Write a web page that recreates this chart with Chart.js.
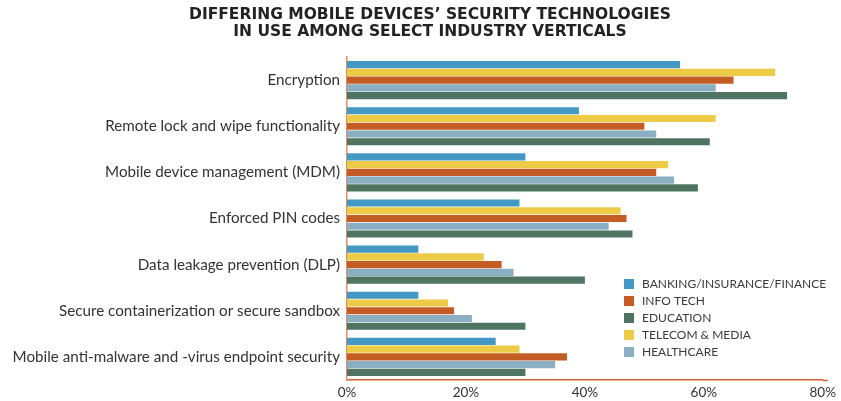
<!DOCTYPE html>
<html>
<head>
<meta charset="utf-8">
<title>Mobile security technologies by industry</title>
<script src="https://cdn.jsdelivr.net/npm/chart.js@4/dist/chart.umd.min.js"></script>
<style>
    html, body { margin: 0; padding: 0; background: #fff; }
    #wrap { width: 841px; height: 401px; position: relative; }
</style>
</head>
<body>
<div id="wrap"><canvas id="securityChart"></canvas></div>
<script>
// Share of respondents using each technology, per industry (%)
const categories = [
    'Encryption',
    'Remote lock and wipe functionality',
    'Mobile device management (MDM)',
    'Enforced PIN codes',
    'Data leakage prevention (DLP)',
    'Secure containerization or secure sandbox',
    'Mobile anti-malware and -virus endpoint security'
];
const banking    = [56, 39, 30, 29, 12, 12, 25];
const telecom    = [72, 62, 54, 46, 23, 17, 29];
const infoTech   = [65, 50, 52, 47, 26, 18, 37];
const healthcare = [62, 52, 55, 44, 28, 21, 35];
const education  = [74, 61, 59, 48, 40, 30, 30];
const xTicks = [0, 20, 40, 60, 80];

const titleLines = ['DIFFERING MOBILE DEVICES\u2019 SECURITY TECHNOLOGIES', 'IN USE AMONG SELECT INDUSTRY VERTICALS'];

// legend lists the series in a different order than the bars are stacked
const legendOrder = ['BANKING/INSURANCE/FINANCE', 'INFO TECH', 'EDUCATION', 'TELECOM & MEDIA', 'HEALTHCARE'];

const FONT = "Lato, 'Open Sans', sans-serif";

// two-line heading, centred a little right of the canvas middle
const heading = {
    id: 'heading',
    afterDraw(chart) {
        const ctx = chart.ctx;
        ctx.save();
        ctx.font = "bold 15.5px 'DejaVu Sans', sans-serif";
        ctx.fillStyle = '#222';
        ctx.textAlign = 'center';
        ctx.textBaseline = 'middle';
        titleLines.forEach((line, i) => ctx.fillText(line, 430, 15 + i * 17));
        ctx.restore();
    }
};

// small box legend drawn inside the plot area, lower right
const boxLegend = {
    id: 'boxLegend',
    afterDraw(chart) {
        const ctx = chart.ctx;
        const x = 624, y0 = 279, step = 17;
        ctx.save();
        ctx.font = '12px ' + FONT;
        ctx.textBaseline = 'middle';
        legendOrder.forEach((name, i) => {
            const ds = chart.data.datasets.find(d => d.label === name);
            const y = y0 + i * step;
            ctx.fillStyle = ds.backgroundColor;
            ctx.fillRect(x, y, 10, 10);
            ctx.fillStyle = '#3a3a3a';
            ctx.fillText(name, x + 18, y + 5.5);
        });
        ctx.restore();
    }
};

// bottom axis line runs a few pixels past the last tick
const axisTail = {
    id: 'axisTail',
    afterDraw(chart) {
        const { ctx, chartArea } = chart;
        ctx.save();
        ctx.strokeStyle = '#c8622e';
        ctx.lineWidth = 1.5;
        ctx.beginPath();
        ctx.moveTo(chartArea.right, chartArea.bottom + 0.5);
        ctx.lineTo(chartArea.right + 5, chartArea.bottom + 0.5);
        ctx.stroke();
        ctx.restore();
    }
};

new Chart(document.getElementById('securityChart'), {
    type: 'bar',
    data: {
        labels: categories,
        datasets: [
            { label: 'BANKING/INSURANCE/FINANCE', data: banking, backgroundColor: '#4399c4' },
            { label: 'TELECOM & MEDIA', data: telecom, backgroundColor: '#eecb46' },
            { label: 'INFO TECH', data: infoTech, backgroundColor: '#c45c26' },
            { label: 'HEALTHCARE', data: healthcare, backgroundColor: '#8aafc3' },
            { label: 'EDUCATION', data: education, backgroundColor: '#4f7462' }
        ]
    },
    options: {
        indexAxis: 'y',
        responsive: true,
        maintainAspectRatio: false,
        animation: false,
        layout: { padding: { top: 57, right: 13, left: 0, bottom: 0 } },
        datasets: {
            bar: { barPercentage: 0.92, categoryPercentage: 0.84, borderWidth: 0 }
        },
        plugins: {
            legend: { display: false },
            tooltip: { enabled: false },
            title: { display: false }
        },
        scales: {
            x: {
                min: 0,
                max: 80,
                afterBuildTicks(scale) {
                    scale.ticks = xTicks.map(v => ({ value: v }));
                },
                afterFit(scale) { scale.height = 21; },
                grid: { display: false, drawTicks: false },
                border: { color: '#c8622e', width: 1.5 },
                ticks: {
                    color: '#333',
                    font: { family: FONT, size: 13.5 },
                    padding: 5,
                    callback: v => v + '%'
                }
            },
            y: {
                grid: { display: false, drawTicks: false },
                border: { color: '#d9906a', width: 1.5 },
                afterFit(scale) { scale.width = 347; },
                ticks: {
                    color: '#333',
                    font: { family: FONT, size: 15.2 },
                    padding: 7
                }
            }
        }
    },
    plugins: [heading, boxLegend, axisTail]
});
</script>
</body>
</html>
